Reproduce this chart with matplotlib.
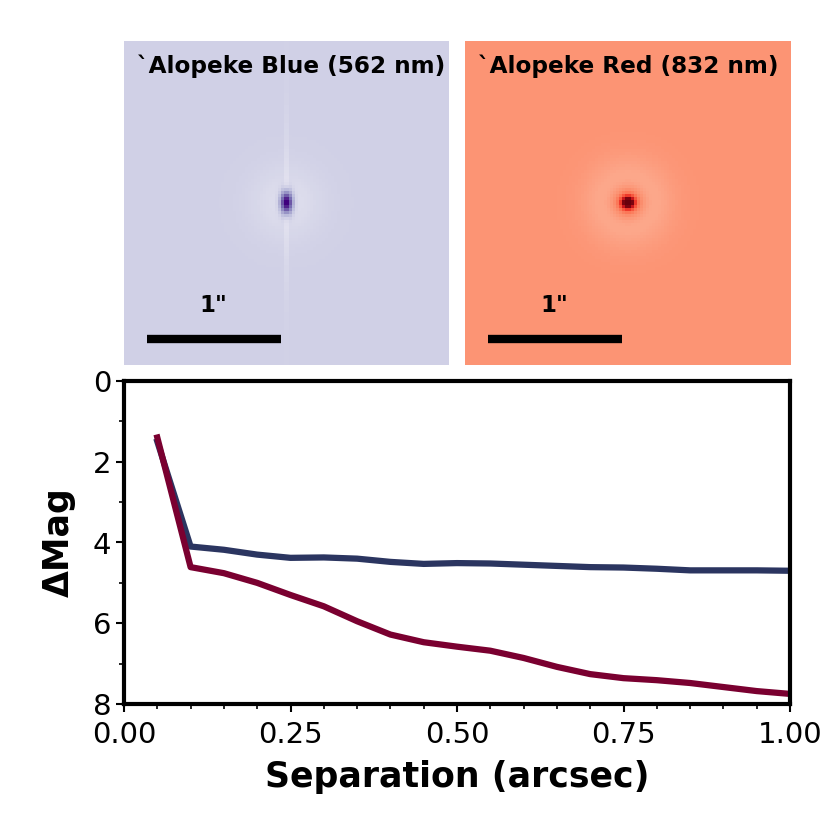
import numpy as np
import matplotlib
matplotlib.use("Agg")
import matplotlib.pyplot as plt
from matplotlib.ticker import MultipleLocator

# ---- contrast-curve data ----
separation = [0.05, 0.10, 0.15, 0.20, 0.25, 0.30, 0.35, 0.40, 0.45, 0.50,
              0.55, 0.60, 0.65, 0.70, 0.75, 0.80, 0.85, 0.90, 0.95, 1.00]
dmag_blue = [1.50, 4.10, 4.18, 4.30, 4.38, 4.37, 4.40, 4.48, 4.53, 4.51,
             4.52, 4.55, 4.58, 4.61, 4.62, 4.65, 4.69, 4.69, 4.69, 4.70]
dmag_red = [1.40, 4.61, 4.76, 5.00, 5.30, 5.58, 5.95, 6.28, 6.47, 6.58,
            6.68, 6.86, 7.08, 7.26, 7.36, 7.41, 7.48, 7.58, 7.68, 7.75]

blue_title = "`Alopeke Blue (562 nm)"
red_title = "`Alopeke Red (832 nm)"
scale_label = '1"'
x_ticks = [0.00, 0.25, 0.50, 0.75, 1.00]
y_ticks = [0, 2, 4, 6, 8]

color_blue = "#2b3560"
color_red = "#7a0030"

W = H = 830.0
fig = plt.figure(figsize=(8.3, 8.3), dpi=100)


def frac(l, t, r, b):
    return [l / W, 1 - b / H, (r - l) / W, (b - t) / H]


# ---- reconstructed image panels (smooth PSF sketches) ----
n = 110
yy, xx = np.mgrid[0:n, 0:n]
cx = cy = (n - 1) / 2.0
rx = (xx - cx) / n
ry = (yy - cy) / n
r2 = rx ** 2 + ry ** 2

img_b = 0.29 - 0.07 * np.exp(-r2 / (2 * 0.07 ** 2))
img_b = img_b - 0.10 * np.exp(-(rx ** 2) / (2 * 0.004 ** 2)) * np.exp(-(ry ** 2) / (2 * 0.18 ** 2))
img_b = img_b + 0.9 * np.exp(-(rx ** 2 / (2 * 0.013 ** 2) + ry ** 2 / (2 * 0.024 ** 2)))
img_b = np.clip(img_b, 0, 1)

img_r = 0.37 - 0.13 * np.exp(-r2 / (2 * 0.08 ** 2))
img_r = img_r + 0.25 * np.exp(-r2 / (2 * 0.035 ** 2))
img_r = img_r + 0.9 * np.exp(-r2 / (2 * 0.013 ** 2))
img_r = np.clip(img_r, 0, 1)

panels = [
    (frac(124, 41, 449, 365), img_b, "Purples", blue_title),
    (frac(465, 41, 790, 365), img_r, "Reds", red_title),
]
for rect, img, cmap, title in panels:
    ax = fig.add_axes(rect)
    ax.imshow(img, cmap=cmap, vmin=0, vmax=1, aspect="auto",
              interpolation="nearest")
    ax.set_axis_off()
    ax.text(0.04, 0.923, title, transform=ax.transAxes, fontsize=16.7,
            fontweight="bold", ha="left", va="center", color="black")
    ax.text(0.274, 0.185, scale_label, transform=ax.transAxes, fontsize=16.5,
            fontweight="bold", ha="center", va="center", color="black")
    ax.plot([0.071, 0.483], [0.080, 0.080], transform=ax.transAxes,
            color="black", lw=6, solid_capstyle="butt")

# ---- contrast curve ----
ax = fig.add_axes(frac(124, 381, 790, 704))
ax.plot(separation, dmag_blue, color=color_blue, lw=4.5)
ax.plot(separation, dmag_red, color=color_red, lw=4.5)
ax.set_xlim(0, 1)
ax.set_ylim(8, 0)
ax.set_xticks(x_ticks)
ax.set_yticks(y_ticks)
ax.set_xticklabels([f"{v:.2f}" for v in x_ticks])
ax.set_yticklabels([str(v) for v in y_ticks])
ax.xaxis.set_minor_locator(MultipleLocator(0.05))
ax.yaxis.set_minor_locator(MultipleLocator(1))
ax.tick_params(which="major", length=6, width=1.5, labelsize=21)
ax.tick_params(axis="x", which="major", pad=6)
ax.tick_params(axis="y", which="major", pad=3)
ax.tick_params(which="minor", length=3.5, width=1.2)
for s in ax.spines.values():
    s.set_linewidth(3)
ax.set_xlabel("Separation (arcsec)", fontsize=25, fontweight="bold", labelpad=8)
ax.set_ylabel("ΔMag", fontsize=25, fontweight="bold", labelpad=12)

fig.savefig("out.png", dpi=100)
